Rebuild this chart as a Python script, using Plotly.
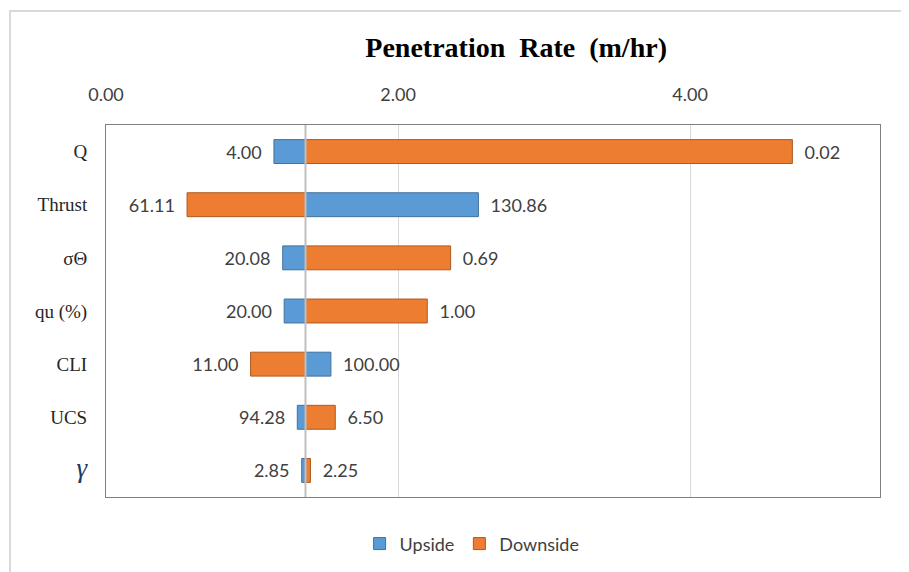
import plotly.graph_objects as go

# tornado chart: penetration rate sensitivity
params = ["Q", "Thrust", "σΘ", "qu (%)", "CLI", "UCS",
          '<span style="font-size:27px;color:#1F3864"><i>γ</i></span>']
base_rate = 1.366
upside_rate = [1.15, 2.55, 1.21, 1.22, 1.54, 1.31, 1.34]
downside_rate = [4.70, 0.555, 2.36, 2.20, 0.99, 1.57, 1.40]
upside_labels = ["4.00", "130.86", "20.08", "20.00", "100.00", "94.28", "2.85"]
downside_labels = ["0.02", "61.11", "0.69", "1.00", "11.00", "6.50", "2.25"]
x_ticks = [0, 2, 4]

sans = "Lato, Roboto, sans-serif"
serif = "Liberation Serif, Times New Roman, serif"
pad = "\u00a0\u00a0"


def padded(labels, values):
    return [(t + pad) if v < base_rate else (pad + t) for t, v in zip(labels, values)]


fig = go.Figure()
fig.add_trace(go.Bar(
    name="Upside", y=params, orientation="h",
    base=base_rate, x=[v - base_rate for v in upside_rate],
    text=padded(upside_labels, upside_rate), textposition="outside", cliponaxis=False,
    textfont=dict(family=sans, size=18, color="#404040"),
    marker=dict(color="#5B9BD5", line=dict(color="#41719C", width=1)),
))
fig.add_trace(go.Bar(
    name="Downside", y=params, orientation="h",
    base=base_rate, x=[v - base_rate for v in downside_rate],
    text=padded(downside_labels, downside_rate), textposition="outside", cliponaxis=False,
    textfont=dict(family=sans, size=18, color="#404040"),
    marker=dict(color="#ED7D31", line=dict(color="#AE5A21", width=1)),
))

# base line
fig.add_shape(type="line", xref="x", yref="paper", x0=base_rate, x1=base_rate,
              y0=0, y1=1, line=dict(color="#BFBFBF", width=2), layer="above")
# outer chart frame
fig.add_shape(type="rect", xref="paper", yref="paper",
              x0=(10 - 106) / 774, x1=(920 - 106) / 774,
              y0=(497 - 590) / 372, y1=(497 - 11) / 372,
              line=dict(color="#D9D9D9", width=2), layer="below")

fig.update_layout(
    width=909, height=572,
    margin=dict(l=98, r=37, t=117, b=83),
    paper_bgcolor="white", plot_bgcolor="white",
    barmode="overlay", bargap=0.55,
    title=dict(text="<b>Penetration  Rate  (m/hr)</b>", x=0.559, xanchor="center",
               y=0.932, yanchor="middle",
               font=dict(family=serif, size=28, color="#000000")),
    legend=dict(orientation="h", x=0.473, xanchor="center", y=-0.126, yanchor="middle",
                font=dict(family=sans, size=18, color="#404040")),
    showlegend=True,
)
fig.update_xaxes(
    side="top", range=[0, 5.3], tickvals=x_ticks, tickformat=".2f",
    showgrid=True, gridcolor="#D9D9D9", gridwidth=1, zeroline=False,
    showline=True, linecolor="#808080", mirror=True, ticks="", ticklabelstandoff=16,
    tickfont=dict(family=sans, size=18, color="#404040"),
)
fig.update_yaxes(
    autorange="reversed", showgrid=False, ticks="", ticklabelstandoff=14,
    showline=True, linecolor="#808080", mirror=True,
    tickfont=dict(family=serif, size=19, color="#262626"),
)

fig.write_html("out.html")
